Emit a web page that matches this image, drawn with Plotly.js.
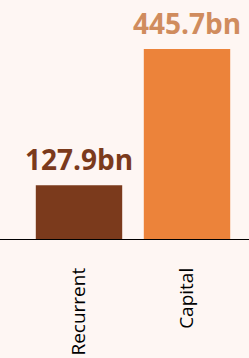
<!DOCTYPE html>
<html>
<head>
<meta charset="utf-8">
<script src="https://cdn.plot.ly/plotly-3.0.1.min.js"></script>
<style>html,body{margin:0;padding:0;background:#fef6f3;}</style>
</head>
<body>
<div id="chart" style="width:249px;height:358px;"></div>
<script>
const categories = ["Recurrent", "Capital"];
const values = [127.9, 445.7];
const labels = ["127.9bn", "445.7bn"];
const barColors = ["#7b3a1c", "#ec833a"];
const labelColors = ["#7b3a1c", "#d08c5e"];

const trace = {
  type: "bar",
  x: categories,
  y: values,
  cliponaxis: false,
  marker: {color: barColors, line: {width: 0}},
  hoverinfo: "none"
};

const annotations = categories.map((c, i) => ({
  x: c, y: values[i], xref: "x", yref: "y",
  text: labels[i], showarrow: false,
  xanchor: "center", yanchor: "bottom", yshift: 5,
  font: {family: "Open Sans", size: 28, color: labelColors[i], weight: 700}
}));

const layout = {
  width: 249, height: 358,
  margin: {l: 23, r: 6, t: 0, b: 118},
  paper_bgcolor: "#fef6f3",
  plot_bgcolor: "#fef6f3",
  bargap: 0.2,
  showlegend: false,
  annotations: annotations,
  xaxis: {
    type: "category",
    tickangle: -90,
    tickfont: {family: "Open Sans", size: 19, color: "#000"},
    ticks: "",
    ticklabelstandoff: 23,
    showline: false,
    showgrid: false,
    zeroline: false
  },
  yaxis: {
    range: [0, 560],
    visible: false,
    showgrid: false,
    zeroline: false
  },
  shapes: [{
    type: "line", xref: "paper", yref: "y",
    x0: -0.11, x1: 1.04, y0: 0, y1: 0,
    line: {color: "#000", width: 2}
  }]
};

Plotly.newPlot("chart", [trace], layout, {displayModeBar: false, staticPlot: true});
</script>
</body>
</html>
